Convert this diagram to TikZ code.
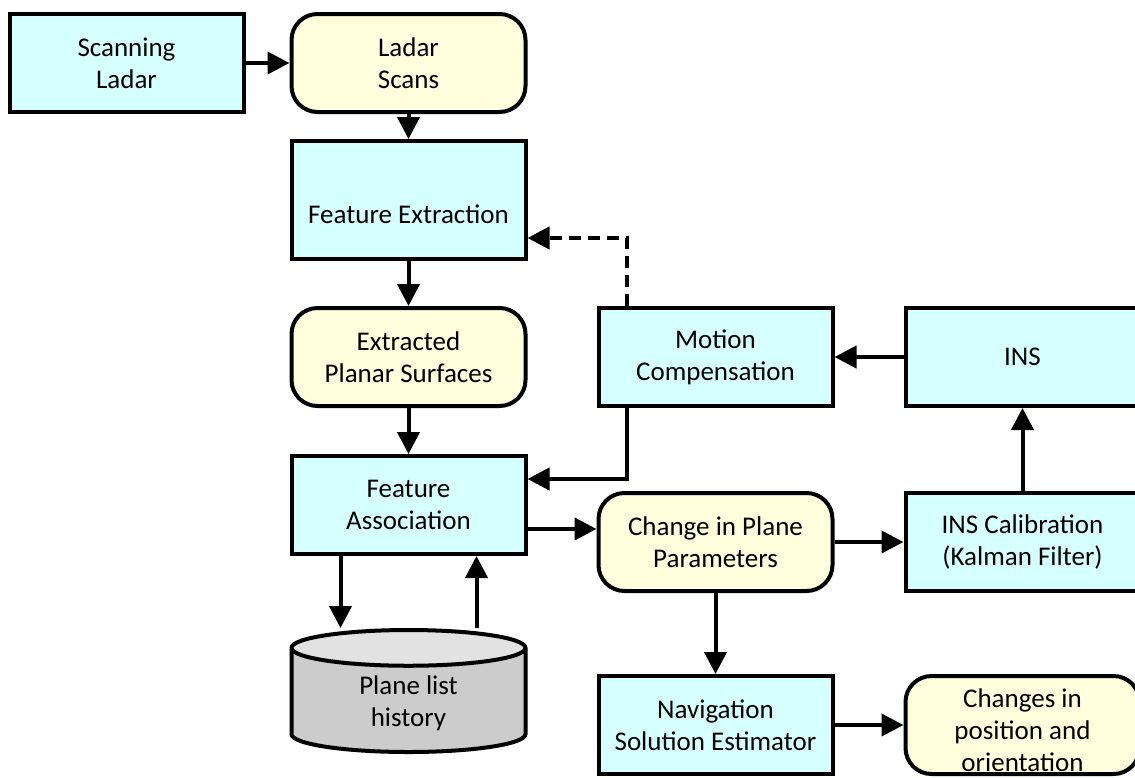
\documentclass[tikz,border=0pt]{standalone}
\usepackage{fontspec}
\setmainfont{Carlito}
\usetikzlibrary{positioning,arrows.meta,calc,shapes.geometric}
\definecolor{BoxCyan}{RGB}{214,255,255}
\definecolor{TermYellow}{RGB}{255,255,221}
\definecolor{StoreBody}{RGB}{204,204,204}
\definecolor{StoreTop}{RGB}{226,226,226}
\tikzset{
  flow/.style={-{Triangle[length=22pt,width=22pt]},line width=4pt,draw=black},
  dashflow/.style={flow,dash pattern=on 12pt off 7pt},
  box/.style={draw=black,line width=4pt,fill=BoxCyan,minimum width=234pt,
    minimum height=98pt,align=center,font=\fontsize{27}{32}\selectfont},
  termbox/.style={box,fill=TermYellow,rounded corners=26pt},
  storebox/.style={cylinder,shape border rotate=90,aspect=0.34,draw=black,
    line width=4pt,cylinder uses custom fill,cylinder body fill=StoreBody,
    cylinder end fill=StoreTop,minimum width=234pt,minimum height=122pt,
    align=center,font=\fontsize{27}{32}\selectfont}
}

\begin{document}
\begin{tikzpicture}[x=1pt,y=-1pt]
  \useasboundingbox (0,0) rectangle (1135,777);
  \clip (0,0) rectangle (1135,777);
  % left column: sensor to associated features
  \node[box] (scan) at (126.5,63) {Scanning\\Ladar};
  \node[termbox,right=44pt of scan] (scans) {Ladar\\Scans};
  \node[box,below=25pt of scans,minimum height=118pt,text height=54pt,text depth=8pt] (extract) {Feature Extraction};
  \node[termbox,below=45pt of extract] (planes) {Extracted\\Planar Surfaces};
  \node[box,below=46pt of planes] (assoc) {Feature\\Association};
  \node[storebox,below=72pt of assoc] (db) {Plane list\\history};
  % right side: inertial loop and outputs
  \node[box,right=69pt of planes] (motion) {Motion\\Compensation};
  \node[box,right=69pt of motion] (ins) {INS};
  \node[box,below=83pt of ins] (calib) {INS Calibration\\(Kalman Filter)};
  \node[termbox,left=69pt of calib] (change) {Change in Plane\\Parameters};
  \node[box,below=81pt of change] (nav) {Navigation\\Solution Estimator};
  \node[termbox,right=69pt of nav,inner ysep=0pt] (result) {\rule{0pt}{30pt}Changes in\\position and\\orientation};
  \coordinate (mc top) at ([xshift=30pt]motion.north west);
  \coordinate (mc bot) at ([xshift=30pt]motion.south west);
  \coordinate (fa in) at ([yshift=26pt]assoc.east);
  \coordinate (fa out) at ([yshift=-24pt]assoc.east);
  \coordinate (to db) at ([xshift=-68pt]assoc.south);
  \coordinate (from db) at ([xshift=68pt]assoc.south);
  \draw[flow] (scan) -- (scans);
  \draw[flow] (scans) -- (extract);
  \draw[flow] (extract) -- (planes);
  \draw[flow] (planes) -- (assoc);
  \draw[dashflow] (mc top) |- ([yshift=-38pt]extract.east);
  \draw[flow] (mc bot) |- (fa in);
  \draw[flow] (ins) -- (motion);
  \draw[flow] (fa out) -- (fa out -| change.west);
  \draw[flow] (change) -- (calib);
  \draw[flow] (calib) -- (ins);
  \draw[flow] (change) -- (nav);
  \draw[flow] (nav) -- (result);
  \draw[flow] (to db) -- (to db |- db.north);
  \draw[flow] (from db |- db.north) -- (from db);
\end{tikzpicture}
\end{document}
